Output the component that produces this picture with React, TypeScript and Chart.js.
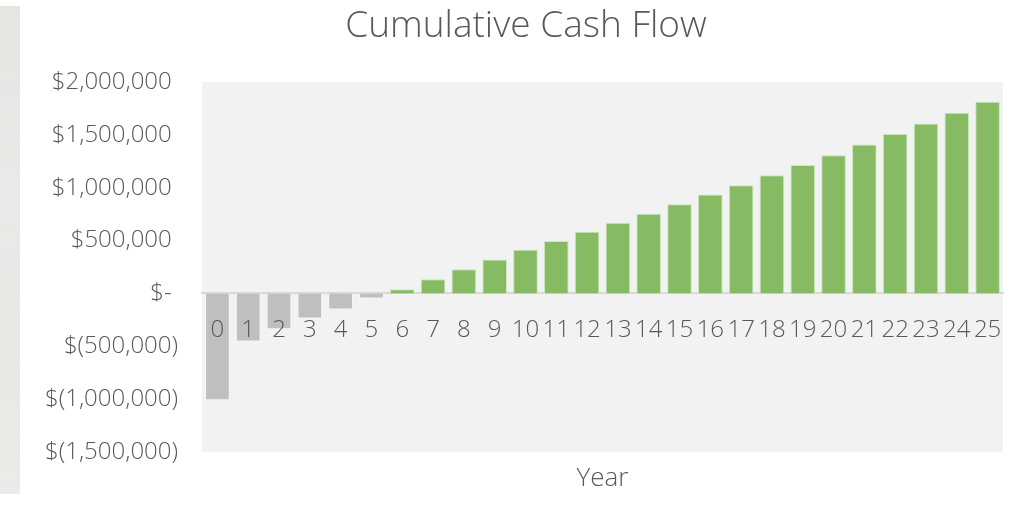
import React, { useEffect, useRef } from "react";
import { Chart, registerables } from "chart.js";

Chart.register(...registerables);

const years = ["0","1","2","3","4","5","6","7","8","9","10","11","12","13","14","15","16","17","18","19","20","21","22","23","24","25"];
const cumulativeCashFlow = [
  -1010000, -455000, -338000, -238000, -153000, -49000,
  40000, 134000, 228000, 322000, 413000, 495000, 583000, 668000,
  753000, 844000, 936000, 1024000, 1118000, 1215000, 1307000,
  1408000, 1508000, 1608000, 1709000, 1813000,
];
const yTickValues = [-1500000, -1000000, -500000, 0, 500000, 1000000, 1500000, 2000000];
const yTickLabels = ["$(1,500,000)", "$(1,000,000)", "$(500,000)", "$- ", "$500,000 ", "$1,000,000 ", "$1,500,000 ", "$2,000,000 "];

const GREEN = "#86bb64";
const GRAY = "#bfbfbf";
const TEXT = "#595959";
const FONT = "'Open Sans', sans-serif";

const plotBg = {
  id: "plotBg",
  beforeDraw(chart: any) {
    const { ctx, chartArea } = chart;
    ctx.save();
    ctx.fillStyle = "#f2f2f2";
    ctx.fillRect(chartArea.left, chartArea.top, chartArea.right - chartArea.left, chartArea.bottom - chartArea.top);
    ctx.restore();
  },
};

export default function App() {
  const ref = useRef<HTMLCanvasElement | null>(null);

  useEffect(() => {
    document.body.style.margin = "0";
    const canvas = ref.current;
    if (!canvas) return;
    const chart = new Chart(canvas, {
      type: "bar",
      data: {
        labels: years,
        datasets: [
          {
            label: "Cumulative Cash Flow",
            data: cumulativeCashFlow,
            backgroundColor: cumulativeCashFlow.map((v) => (v < 0 ? GRAY : GREEN)),
            borderColor: cumulativeCashFlow.map((v) => (v < 0 ? "rgba(255,255,255,0.35)" : "rgba(200,230,180,0.9)")),
            borderWidth: 1,
            barPercentage: 0.8,
            categoryPercentage: 1.0,
          },
        ],
      },
      options: {
        animation: false,
        responsive: false,
        maintainAspectRatio: false,
        layout: { padding: { left: 7, right: 0, top: 0, bottom: 0 } },
        plugins: {
          legend: { display: false },
          tooltip: { enabled: false },
          title: {
            display: true,
            text: "Cumulative Cash Flow",
            color: TEXT,
            font: { family: FONT, size: 37, weight: "300" as any, lineHeight: 1.2 },
            padding: { top: 4.5, bottom: 33.1 },
          },
        },
        scales: {
          x: {
            type: "category",
            position: { y: 0 } as any,
            grid: { display: false, drawTicks: false },
            border: { display: true, color: "#d9d9d9", width: 2 },
            ticks: {
              z: 1,
              color: TEXT,
              font: { family: FONT, size: 24, weight: "300" as any, lineHeight: 1.2 },
              padding: 22,
              autoSkip: false,
              maxRotation: 0,
              minRotation: 0,
            },
          },
          x2: {
            type: "category",
            position: "bottom",
            display: true,
            grid: { display: false, drawTicks: false },
            border: { display: false },
            ticks: { display: false },
            title: {
              display: true,
              text: "Year",
              color: TEXT,
              font: { family: FONT, size: 26, weight: "300" as any, lineHeight: 1.2 },
              padding: { top: 11.3, bottom: 28.5 },
            },
          },
          y: {
            type: "linear",
            position: "left",
            min: -1500000,
            max: 2000000,
            grid: { display: false, drawTicks: false },
            border: { display: false },
            afterBuildTicks: (scale: any) => {
              scale.ticks = yTickValues.map((v) => ({ value: v }));
            },
            afterFit: (scale: any) => {
              scale.width = 175;
            },
            ticks: {
              color: TEXT,
              font: { family: FONT, size: 24, weight: "300" as any, lineHeight: 1.2 },
              padding: 24,
              callback: (value: any) => {
                const i = yTickValues.indexOf(Number(value));
                return i >= 0 ? yTickLabels[i] : "";
              },
            },
          },
          y2: {
            type: "linear",
            position: "right",
            display: true,
            grid: { display: false, drawTicks: false },
            border: { display: false },
            ticks: { display: false },
            afterFit: (scale: any) => {
              scale.width = 22;
            },
          },
        },
      },
      plugins: [plotBg],
    });
    return () => chart.destroy();
  }, []);

  return (
    <div style={{ position: "fixed", left: 0, top: 0, width: 1025, height: 523, background: "#ffffff", overflow: "hidden" }}>
      <div
        style={{
          position: "absolute",
          left: 0,
          top: 6,
          width: 20,
          height: 488,
          background: "linear-gradient(180deg, #e4e6e2 0%, #e9eae7 40%, #e6e8e4 70%, #ebece9 100%)",
        }}
      />
      <canvas ref={ref} width={1005} height={523} style={{ position: "absolute", left: 20, top: 0, width: 1005, height: 523 }} />
    </div>
  );
}
